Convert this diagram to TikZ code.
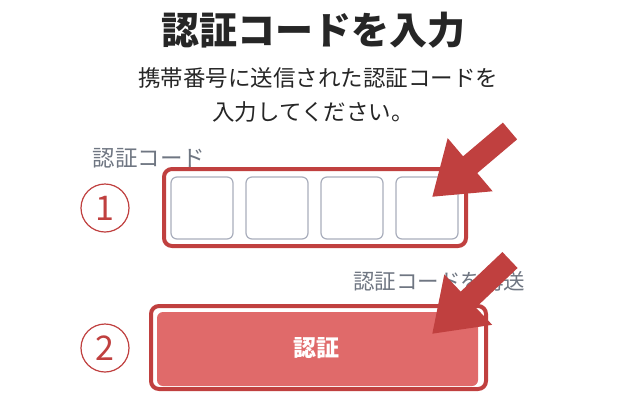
\documentclass[tikz,border=0pt]{standalone}
\usepackage{fontspec}
\setmainfont{Noto Sans CJK JP}
\usetikzlibrary{arrows.meta}
\definecolor{rd}{HTML}{C0403F}
\definecolor{bt}{HTML}{E06A6A}
\definecolor{gt}{HTML}{6F7682}
\definecolor{bx}{HTML}{A9AEBC}
\begin{document}
\begin{tikzpicture}[x=1pt,y=-1pt,
  cell/.style={draw=bx,line width=1.2pt,rounded corners=6pt},
  num/.style={draw=rd,circle,line width=1.2pt,minimum size=48pt,inner sep=0pt,text=rd,font=\fontsize{34}{34}\selectfont},
  big/.style={draw=rd,line width=22pt,-{Triangle[width=66pt,length=50pt]}}]
\useasboundingbox (0,0) rectangle (640,400);
\fill[white] (0,0) rectangle (640,400);
\node[font=\fontsize{38}{38}\selectfont\bfseries,text=black!85] (t) at (313,30) {認証コードを入力};
\node[font=\fontsize{22.5}{22.5}\selectfont,text=black!85] (s1) at (318,78) {携帯番号に送信された認証コードを};
\node[font=\fontsize{22.5}{22.5}\selectfont,text=black!85] (s2) at (313,112) {入力してください。};
\node[font=\fontsize{22.5}{22.5}\selectfont,text=gt,anchor=west] (l) at (89,158) {認証コード};
\node[num] (n1) at (105,208) {1};
\node[num] (n2) at (105,348) {2};
\draw[draw=rd,line width=4pt,rounded corners=8pt] (164,169) rectangle (466,246);
\draw[cell] (171,177) rectangle (233,239);
\draw[cell] (246,177) rectangle (308,239);
\draw[cell] (321,177) rectangle (383,239);
\draw[cell] (396,177) rectangle (458,239);
\node[font=\fontsize{21.5}{21.5}\selectfont,text=gt,anchor=east] (r) at (529,281) {認証コードを再送};
\draw[draw=rd,line width=4pt,rounded corners=8pt] (151,306) rectangle (486,389);
\fill[bt,rounded corners=6pt] (157,312) rectangle (478,386);
\node[font=\fontsize{23}{23}\selectfont\bfseries,text=white] (b) at (316,348) {認証};
\coordinate (a1s) at (510,131);
\coordinate (a1e) at (432,197);
\coordinate (a2s) at (510,260);
\coordinate (a2e) at (432,334);
\draw[big] (a1s) -- (a1e);
\draw[big] (a2s) -- (a2e);
\end{tikzpicture}
\end{document}
